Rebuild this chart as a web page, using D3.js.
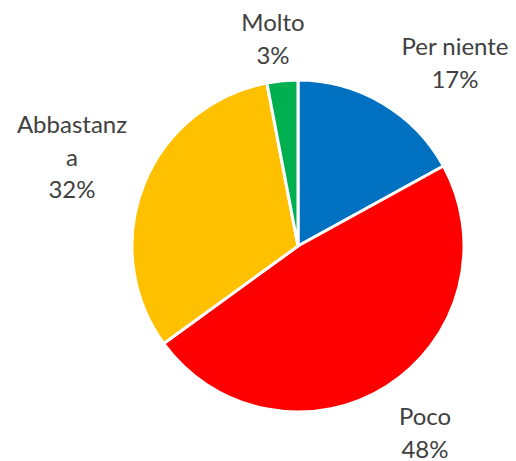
<!DOCTYPE html>
<html>
<head>
<meta charset="utf-8">
<script src="https://cdn.jsdelivr.net/npm/d3@7"></script>
<style>
  body { margin: 0; background: #fff; }
  text { font-family: Lato, "Open Sans", sans-serif; fill: #404040; }
</style>
</head>
<body>
<div id="container"></div>
<script>
// data
var categories = ["Per niente", "Poco", "Abbastanza", "Molto"],
    values = [17, 48, 32, 3],
    colors = ["#0070C0", "#FF0000", "#FFC000", "#00B050"];

// label lines (Excel wraps the long one) and where they sit
var labelLines = [["Per niente", "17%"], ["Poco", "48%"], ["Abbastanz", "a", "32%"], ["Molto", "3%"]],
    labelPos = [[455, 55], [425, 425], [72, 133], [273, 31]];

var width = 516,
    height = 461,
    cx = 298,
    cy = 246,
    radius = 166,
    lineH = 32.5;

var svg = d3.select("#container").append("svg")
    .attr("width", width)
    .attr("height", height)

var data = categories.map(function(c, i) { return { name: c, value: values[i] } })

var pie = d3.pie()
    .sort(null)
    .value(function(d) { return d.value })

var arc = d3.arc()
    .innerRadius(0)
    .outerRadius(radius)

var g = svg.append("g")
    .attr("transform", "translate(" + cx + "," + cy + ")")

g.selectAll(".slice")
    .data(pie(data))
    .enter().append("path")
    .attr("class", "slice")
    .attr("d", arc)
    .style("fill", function(d, i) { return colors[i] })
    .style("stroke", "#fff")
    .style("stroke-width", 3)
    .style("stroke-linejoin", "round")

var labels = svg.selectAll(".label")
    .data(labelLines)
    .enter().append("text")
    .attr("class", "label")
    .attr("text-anchor", "middle")
    .style("font-size", "24px")

labels.each(function(lines, i) {
    var t = d3.select(this)
    lines.forEach(function(l, j) {
        t.append("tspan")
            .attr("x", labelPos[i][0])
            .attr("y", labelPos[i][1] + j * lineH)
            .text(l)
    })
})
</script>
</body>
</html>
